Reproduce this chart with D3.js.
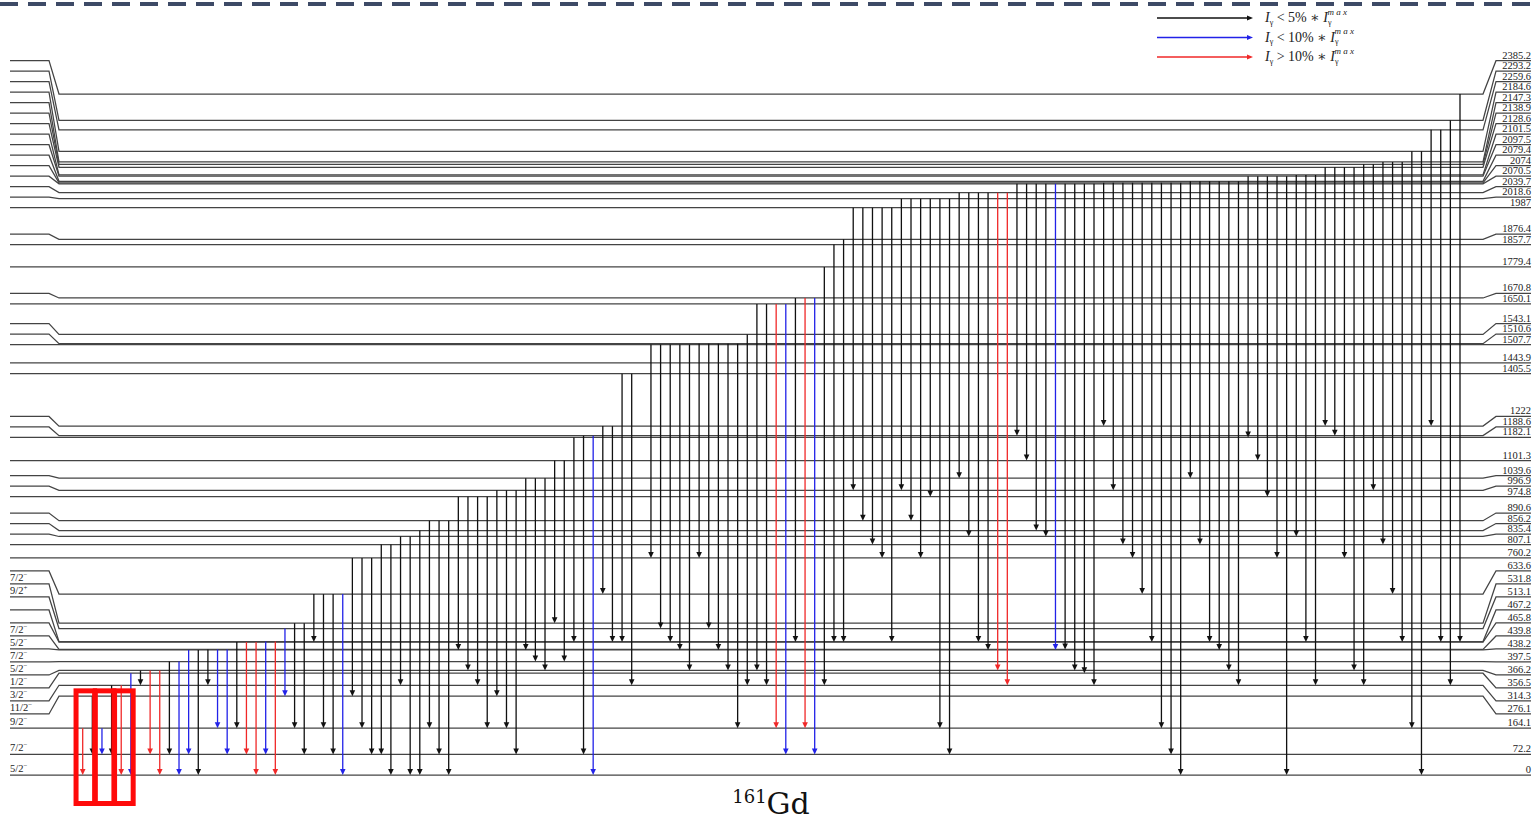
<!DOCTYPE html>
<html>
<head>
<meta charset="utf-8">
<script src="https://cdn.jsdelivr.net/npm/d3@7"></script>
<style>
  body { margin: 0; background: #fff; }
  svg { display: block; }
</style>
</head>
<body>
<div id="chart"></div>
<script>
//=====================
// 161Gd level scheme
//=====================

let width = 1537;
let height = 822;

// level energies (keV)
let levels = [0, 72.2, 164.1, 276.1, 314.3, 356.5, 366.2, 397.5, 438.2, 439.8, 465.8, 467.2,
  513.1, 531.8, 633.6, 760.2, 807.1, 835.4, 856.2, 890.6, 974.8, 996.9, 1039.6, 1101.3,
  1182.1, 1188.6, 1222, 1405.5, 1443.9, 1507.7, 1510.6, 1543.1, 1650.1, 1670.8, 1779.4,
  1857.7, 1876.4, 1987, 2018.6, 2039.7, 2070.5, 2074, 2079.4, 2097.5, 2101.5, 2128.6,
  2138.9, 2147.3, 2184.6, 2259.6, 2293.2, 2385.2];

// spin / parity of the low lying levels
let spinLevels = [0, 72.2, 164.1, 276.1, 314.3, 356.5, 366.2, 397.5, 438.2, 439.8, 513.1, 531.8];
let spins = ['5/2', '7/2', '9/2', '11/2', '3/2', '1/2', '5/2', '7/2', '5/2', '7/2', '9/2', '7/2'];
let parities = ['−', '−', '−', '−', '−', '−', '−', '−', '−', '−', '+', '−'];

// gamma transitions: [initial level, final level, intensity class]
// w: < 5% of max, m: < 10% of max, s: > 10% of max
let gammas = [
  [164.1, 0, 's'], [276.1, 72.2, 'w'], [164.1, 72.2, 'm'], [314.3, 72.2, 'w'], [314.3, 0, 's'],
  [356.5, 0, 'm'], [366.2, 314.3, 'w'], [366.2, 72.2, 's'], [366.2, 0, 's'], [397.5, 72.2, 'w'],
  [397.5, 0, 'm'], [438.2, 72.2, 'm'], [438.2, 0, 'w'], [439.8, 314.3, 'w'],
  [439.8, 164.1, 'm'], [439.8, 72.2, 'm'], [465.8, 164.1, 'w'], [465.8, 72.2, 's'], [465.8, 0, 's'],
  [467.2, 72.2, 'm'], [467.2, 0, 's'], [513.1, 276.1, 'm'], [531.8, 164.1, 'w'], [531.8, 72.2, 'w'],
  [633.6, 465.8, 'w'], [633.6, 164.1, 'w'], [633.6, 72.2, 'w'], [633.6, 0, 'm'], [760.2, 276.1, 'w'],
  [760.2, 164.1, 'w'], [760.2, 72.2, 'w'], [807.1, 72.2, 'w'], [807.1, 0, 'w'], [835.4, 314.3, 'w'],
  [835.4, 0, 'w'], [856.2, 0, 'w'], [890.6, 164.1, 'w'], [890.6, 72.2, 'w'], [890.6, 0, 'w'],
  [974.8, 438.2, 'w'], [974.8, 366.2, 'w'], [974.8, 314.3, 'w'], [974.8, 164.1, 'w'], [996.9, 276.1, 'w'],
  [996.9, 164.1, 'w'], [996.9, 72.2, 'w'], [1039.6, 438.2, 'w'], [1039.6, 397.5, 'w'], [1039.6, 366.2, 'w'],
  [1101.3, 531.8, 'w'], [1101.3, 397.5, 'w'], [1182.1, 465.8, 'w'], [1188.6, 72.2, 'w'], [1188.6, 0, 'm'],
  [1222, 633.6, 'w'], [1222, 465.8, 'w'], [1405.5, 465.8, 'w'], [1405.5, 314.3, 'w'], [1507.7, 760.2, 'w'],
  [1507.7, 513.1, 'w'], [1507.7, 465.8, 'w'], [1507.7, 438.2, 'w'], [1507.7, 366.2, 'w'], [1510.6, 760.2, 'w'],
  [1510.6, 513.1, 'w'], [1510.6, 438.2, 'w'], [1510.6, 366.2, 'w'], [1510.6, 164.1, 'w'], [1543.1, 314.3, 'w'],
  [1650.1, 366.2, 'w'], [1650.1, 314.3, 'w'], [1650.1, 164.1, 's'], [1650.1, 72.2, 'm'], [1670.8, 465.8, 'w'],
  [1670.8, 164.1, 's'], [1670.8, 72.2, 'm'], [1779.4, 314.3, 'w'], [1857.7, 465.8, 'w'], [1876.4, 465.8, 'w'],
  [1987, 996.9, 'w'], [1987, 890.6, 'w'], [1987, 807.1, 'w'], [1987, 760.2, 'w'], [1987, 465.8, 'w'],
  [2018.6, 996.9, 'w'], [2018.6, 890.6, 'w'], [2018.6, 760.2, 'w'], [2018.6, 974.8, 'w'], [2018.6, 164.1, 'w'],
  [2018.6, 72.2, 'w'], [2039.7, 1039.6, 'w'], [2039.7, 835.4, 'w'], [2039.7, 465.8, 'w'], [2039.7, 438.2, 'w'],
  [2039.7, 366.2, 's'], [2039.7, 314.3, 's'], [2070.5, 1188.6, 'w'], [2070.5, 1101.3, 'w'], [2070.5, 856.2, 'w'],
  [2070.5, 835.4, 'w'], [2070.5, 438.2, 'm'], [2070.5, 439.8, 'w'], [2070.5, 366.2, 'w'], [2070.5, 356.5, 'w'],
  [2070.5, 314.3, 'w'], [2074, 1222, 'w'], [2074, 996.9, 'w'], [2074, 807.1, 'w'], [2074, 760.2, 'w'],
  [2074, 633.6, 'w'], [2074, 465.8, 'w'], [2074, 164.1, 'w'], [2074, 72.2, 'w'], [2074, 0, 'w'],
  [2079.4, 1039.6, 'w'], [2079.4, 807.1, 'w'], [2079.4, 465.8, 'w'], [2079.4, 438.2, 'w'], [2079.4, 366.2, 'w'],
  [2079.4, 314.3, 'w'], [2097.5, 1182.1, 'w'], [2097.5, 1101.3, 'w'], [2097.5, 974.8, 'w'], [2097.5, 760.2, 'w'],
  [2097.5, 0, 'w'], [2101.5, 835.4, 'w'], [2101.5, 465.8, 'w'], [2101.5, 314.3, 'w'], [2128.6, 1222, 'w'],
  [2128.6, 1188.6, 'w'], [2128.6, 760.2, 'w'], [2128.6, 366.2, 'w'], [2138.9, 314.3, 'w'], [2138.9, 996.9, 'w'],
  [2147.3, 807.1, 'w'], [2147.3, 633.6, 'w'], [2147.3, 465.8, 'w'], [2184.6, 164.1, 'w'], [2184.6, 0, 'w'],
  [2259.6, 1222, 'w'], [2259.6, 465.8, 'w'], [2293.2, 314.3, 'w'], [2385.2, 465.8, 'w']
];

// legend
let legendClasses = ['w', 'm', 's'];
let legendSigns = ['<', '<', '>'];
let legendPercents = ['5%', '10%', '10%'];

// highlighted transitions (index ranges)
let highlightRuns = [[0, 1], [2, 3], [4, 5]];

let colors = { w: '#111111', m: '#2222e8', s: '#f02828' };
let serif = '"Liberation Serif", "DejaVu Serif", serif';

let svg = d3.select('#chart').append('svg')
  .attr('width', width)
  .attr('height', height);

// a level that emits nothing still keeps an empty slot in the sequence
let firstEmitter = d3.min(gammas, g => g[0]);
let emitters = new Set(gammas.map(g => g[0]));
let silent = levels.filter(e => e > firstEmitter && !emitters.has(e));
let slots = gammas.map((g, i) => i + silent.filter(e => e < g[0]).length);

let yScale = d3.scaleLinear().domain([0, d3.max(levels)]).range([775, 94]);
let xScale = d3.scaleLinear().domain([0, d3.max(slots)]).range([82.7, 1460]);

// side label slots:
// above the spin block labels are only pushed upward;
// the spin block is packed down from the first level above it
let hasSpin = levels.map(e => spinLevels.indexOf(e) >= 0);

let spreadLabels = (ys) => {
  let pos = ys.slice();
  let wall = d3.max(hasSpin.map((s, i) => s ? i : -1)) + 2;
  let gap = 13;

  for (let i = wall + 1; i < pos.length; i++) {
    pos[i] = Math.min(pos[i], pos[i - 1] - 10.5);
  }
  for (let i = 1; i < wall; i++) {
    pos[i] = Math.min(pos[i], pos[i - 1] - gap);
  }
  for (let i = wall - 1; i >= 0; i--) {
    pos[i] = Math.max(pos[i], pos[i + 1] + gap);
  }
  return pos;
};

let labelY = spreadLabels(levels.map(e => yScale(e)));

// top dashed rule
svg.append('line')
  .attr('x1', 0).attr('x2', width)
  .attr('y1', 4).attr('y2', 4)
  .attr('stroke', '#3d4a66')
  .attr('stroke-width', 4)
  .attr('stroke-dasharray', '18,10');

// level lines
let lx = [10, 49, 59, 1483, 1496, 1531];
let line = d3.line();

svg.append('g').selectAll('path')
  .data(levels)
  .join('path')
  .attr('d', (e, i) => {
    let yl = labelY[i];
    let ya = yScale(e);
    return line([[lx[0], yl], [lx[1], yl], [lx[2], ya], [lx[3], ya], [lx[4], yl], [lx[5], yl]]);
  })
  .attr('fill', 'none')
  .attr('stroke', '#444')
  .attr('stroke-width', 1.25);

// energy labels (right)
svg.append('g').selectAll('text')
  .data(levels)
  .join('text')
  .attr('x', lx[5])
  .attr('y', (e, i) => labelY[i] - 2)
  .attr('text-anchor', 'end')
  .style('font-family', serif)
  .style('font-size', '10.5px')
  .style('fill', '#222')
  .text(e => String(e));

// spin labels (left)
let spinText = svg.append('g').selectAll('text')
  .data(spinLevels)
  .join('text')
  .attr('x', 10)
  .attr('y', e => labelY[levels.indexOf(e)] - 3)
  .style('font-family', serif)
  .style('font-size', '10.5px')
  .style('fill', '#222');

spinText.append('tspan').text((e, i) => spins[i]);
spinText.append('tspan')
  .attr('dy', -4)
  .style('font-size', '7px')
  .text((e, i) => parities[i]);

// transitions
let gammaG = svg.append('g');

gammaG.selectAll('line')
  .data(gammas)
  .join('line')
  .attr('x1', (g, i) => xScale(slots[i]))
  .attr('x2', (g, i) => xScale(slots[i]))
  .attr('y1', g => yScale(g[0]))
  .attr('y2', g => yScale(g[1]) - 4)
  .attr('stroke', g => colors[g[2]])
  .attr('stroke-width', 1.3);

gammaG.selectAll('path')
  .data(gammas)
  .join('path')
  .attr('d', (g, i) => {
    let x = xScale(slots[i]);
    let y = yScale(g[1]);
    return 'M' + x + ',' + y + 'L' + (x - 2.8) + ',' + (y - 6) + 'L' + (x + 2.8) + ',' + (y - 6) + 'Z';
  })
  .attr('fill', g => colors[g[2]]);

// legend
let legend = svg.append('g').selectAll('g')
  .data(legendClasses)
  .join('g')
  .attr('transform', (c, i) => 'translate(0,' + (18 + i * 19.5) + ')');

legend.append('line')
  .attr('x1', 1157).attr('x2', 1248)
  .attr('stroke', c => colors[c])
  .attr('stroke-width', 1.3);

legend.append('path')
  .attr('d', 'M1253,0L1247,-2.6L1247,2.6Z')
  .attr('fill', c => colors[c]);

let legendText = legend.append('text')
  .attr('x', 1265)
  .attr('y', 4)
  .style('font-family', serif)
  .style('font-size', '14px')
  .style('fill', '#222');

legendText.append('tspan').style('font-style', 'italic').text('I');
legendText.append('tspan').attr('dy', 2.5).style('font-size', '8px').text('γ');
legendText.append('tspan').attr('dy', -2.5).text((c, i) => ' ' + legendSigns[i] + ' ' + legendPercents[i] + ' ∗ ');
legendText.append('tspan').style('font-style', 'italic').text('I');
legendText.append('tspan').attr('dy', 2.5).style('font-size', '8px').text('γ');
legendText.append('tspan')
  .attr('dx', -4).attr('dy', -10)
  .style('font-size', '9px')
  .style('font-style', 'italic')
  .text('m a x');

// isotope name
let title = svg.append('text')
  .attr('x', (lx[2] + lx[3]) / 2)
  .attr('y', 814)
  .attr('text-anchor', 'middle')
  .style('font-family', '"DejaVu Serif", serif')
  .style('fill', '#111');
title.append('tspan').attr('dy', -11).style('font-size', '18px').text('161');
title.append('tspan').attr('dy', 11).style('font-size', '30px').text('Gd');

// red highlight boxes
svg.append('g').selectAll('rect')
  .data(highlightRuns)
  .join('rect')
  .attr('x', r => xScale(slots[r[0]] - 0.95) + 2.5)
  .attr('width', r => xScale(slots[r[1]] + 0.5) - xScale(slots[r[0]] - 0.95) - 5)
  .attr('y', yScale(300) + 1.5)
  .attr('height', yScale(0) + 31 - yScale(300) - 4)
  .attr('fill', 'none')
  .attr('stroke', '#ff0a0a')
  .attr('stroke-width', 5);
</script>
</body>
</html>
